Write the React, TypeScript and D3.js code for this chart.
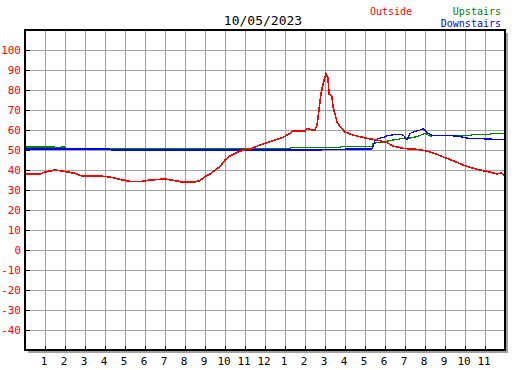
import React, { useEffect, useRef } from "react";
import * as d3 from "d3";

// temperature readings: [hour of day, degrees]
const outside: [number, number][] = [
  [0, 38], [0.75, 38], [1.0, 39], [1.5, 40], [2.0, 39.3], [2.5, 38.3], [2.85, 37],
  [3.75, 37], [4.25, 36.5], [4.75, 35.3], [5.25, 34.3], [5.85, 34.3], [6.25, 35],
  [7.0, 35.5], [7.5, 34.7], [7.85, 34], [8.5, 34], [8.75, 34.7], [9.0, 36.7],
  [9.25, 38], [9.75, 41.7], [10.0, 45], [10.25, 47], [10.5, 48.3], [10.9, 50],
  [11.25, 50.5], [11.75, 52.5], [12.5, 55], [12.9, 56.3], [13.25, 58.3], [13.4, 59.5],
  [14.0, 59.5], [14.1, 60.8], [14.35, 60], [14.5, 60], [14.6, 62.5], [14.7, 70],
  [14.8, 78], [14.9, 83], [15.05, 88.3], [15.15, 86], [15.2, 78], [15.35, 76.7],
  [15.4, 71.7], [15.5, 68], [15.6, 64], [15.75, 61.7], [16.0, 59], [16.4, 57.5],
  [17.1, 55.8], [17.6, 55], [18.1, 53.7], [18.4, 52], [18.9, 50.8], [19.6, 50.3],
  [20.1, 49.5], [20.6, 47.8], [21.1, 45.8], [21.4, 44.7], [21.9, 42.5], [22.6, 40.3],
  [23.25, 39], [23.6, 38], [23.8, 38.5], [24, 37],
];

const upstairs: [number, number][] = [
  [0, 51.5], [1.5, 51.5], [1.55, 51], [1.75, 51], [1.8, 51.5], [2.0, 51.5], [2.05, 50.6],
  [13.25, 50.6], [13.3, 51.3], [15.75, 51.3], [15.8, 51.6], [17.35, 51.6], [17.4, 53.3],
  [18.0, 54.2], [18.4, 55], [18.9, 55.8], [19.15, 55.8], [19.6, 56.7], [20.0, 58.3],
  [20.25, 57], [21.1, 57.3], [22.3, 57.3], [22.35, 57.8], [23.25, 57.8], [23.35, 58.3],
  [24, 58.3],
];

const downstairs: [number, number][] = [
  [0, 50.5], [4.25, 50.5], [4.3, 50], [14.85, 50], [14.9, 50.4], [17.35, 50.5],
  [17.5, 54.7], [17.65, 55.8], [17.9, 56.2], [18.1, 57.2], [18.6, 57.8], [18.9, 57.5],
  [19.1, 55.3], [19.25, 58.3], [19.5, 59.2], [19.85, 60.3], [19.9, 60.8], [20.1, 58.7],
  [20.35, 57.3], [21.6, 57], [22.25, 55.7], [24, 55.3],
];

const yTicks = d3.range(-40, 101, 10);
const hourTicks = d3.range(1, 24);
const hourLabels = hourTicks.map(h => String(h % 12 === 0 ? 12 : h % 12));

const title = "10/05/2023";
const legend = [
  { name: "Outside", color: "#ff0000" },
  { name: "Upstairs", color: "#008000" },
  { name: "Downstairs", color: "#0000ff" },
];

export default function App() {
  const svgRef = useRef<SVGSVGElement>(null);

  useEffect(() => {
    const width = 527;
    const height = 370;
    const left = 25, right = 505, top = 30, bottom = 350;
    const font = "'DejaVu Sans Mono', monospace";

    const svg = d3.select(svgRef.current);
    svg.selectAll("*").remove();
    svg.attr("width", width).attr("height", height);

    svg.append("rect").attr("width", width).attr("height", height).attr("fill", "#fff");

    const x = d3.scaleLinear().domain([0, 24]).range([left, right]);
    const y = d3.scaleLinear().domain([-50, 110]).range([bottom, top]);

    // shadow of the frame
    svg.append("rect")
      .attr("x", left + 3).attr("y", top + 3)
      .attr("width", right - left).attr("height", bottom - top)
      .attr("fill", "#a0a0a0");
    svg.append("rect")
      .attr("x", left).attr("y", top)
      .attr("width", right - left).attr("height", bottom - top)
      .attr("fill", "#fff");

    // grid
    const grid = svg.append("g").attr("stroke", "#a0a0a0").attr("stroke-width", 1)
      .attr("shape-rendering", "crispEdges");
    hourTicks.forEach(h => {
      grid.append("line").attr("x1", x(h) + 0.5).attr("x2", x(h) + 0.5).attr("y1", top).attr("y2", bottom);
    });
    d3.range(-40, 110, 10).forEach(v => {
      grid.append("line").attr("x1", left).attr("x2", right).attr("y1", y(v) + 0.5).attr("y2", y(v) + 0.5);
    });

    // series
    const line = d3.line<[number, number]>().x(d => x(d[0])).y(d => y(d[1]));
    const series: [[number, number][], string, number][] = [
      [upstairs, "#008000", 1.2],
      [downstairs, "#0000ff", 1.2],
      [outside, "#ff0000", 1.6],
    ];
    series.forEach(([data, color, w]) => {
      svg.append("path").datum(data)
        .attr("d", line)
        .attr("fill", "none")
        .attr("stroke", color)
        .attr("stroke-width", w)
        .attr("shape-rendering", "crispEdges");
    });

    // frame
    svg.append("rect")
      .attr("x", left).attr("y", top)
      .attr("width", right - left).attr("height", bottom - top)
      .attr("fill", "none").attr("stroke", "#000").attr("stroke-width", 2);

    // tick marks
    const ticks = svg.append("g").attr("stroke", "#000").attr("stroke-width", 1.5)
      .attr("shape-rendering", "crispEdges");
    yTicks.forEach(v => {
      ticks.append("line").attr("x1", left).attr("x2", left + 5).attr("y1", y(v) + 0.5).attr("y2", y(v) + 0.5);
    });
    hourTicks.forEach(h => {
      ticks.append("line").attr("x1", x(h) + 0.5).attr("x2", x(h) + 0.5).attr("y1", bottom).attr("y2", bottom - 4);
    });

    // y labels
    svg.append("g").selectAll("text").data(yTicks).enter().append("text")
      .attr("x", 21).attr("y", d => y(d) + 4)
      .attr("text-anchor", "end")
      .attr("font-family", font).attr("font-size", 11)
      .attr("fill", "#ff0000")
      .text(d => String(d));

    // x labels
    svg.append("g").selectAll("text").data(hourTicks).enter().append("text")
      .attr("x", d => x(d) - 1).attr("y", 365)
      .attr("text-anchor", "middle")
      .attr("font-family", font).attr("font-size", 11)
      .attr("fill", "#000")
      .text((d, i) => hourLabels[i]);

    // title
    svg.append("text")
      .attr("x", 263).attr("y", 25)
      .attr("text-anchor", "middle")
      .attr("font-family", font).attr("font-size", 13)
      .attr("fill", "#000")
      .text(title);

    // legend
    svg.append("text").attr("x", 370).attr("y", 15)
      .attr("font-family", font).attr("font-size", 10)
      .attr("fill", legend[0].color).text(legend[0].name);
    svg.append("text").attr("x", 501).attr("y", 15).attr("text-anchor", "end")
      .attr("font-family", font).attr("font-size", 10)
      .attr("fill", legend[1].color).text(legend[1].name);
    svg.append("text").attr("x", 501).attr("y", 27).attr("text-anchor", "end")
      .attr("font-family", font).attr("font-size", 10)
      .attr("fill", legend[2].color).text(legend[2].name);
  }, []);

  return <svg ref={svgRef} style={{ position: "absolute", left: 0, top: 0 }}></svg>;
}
